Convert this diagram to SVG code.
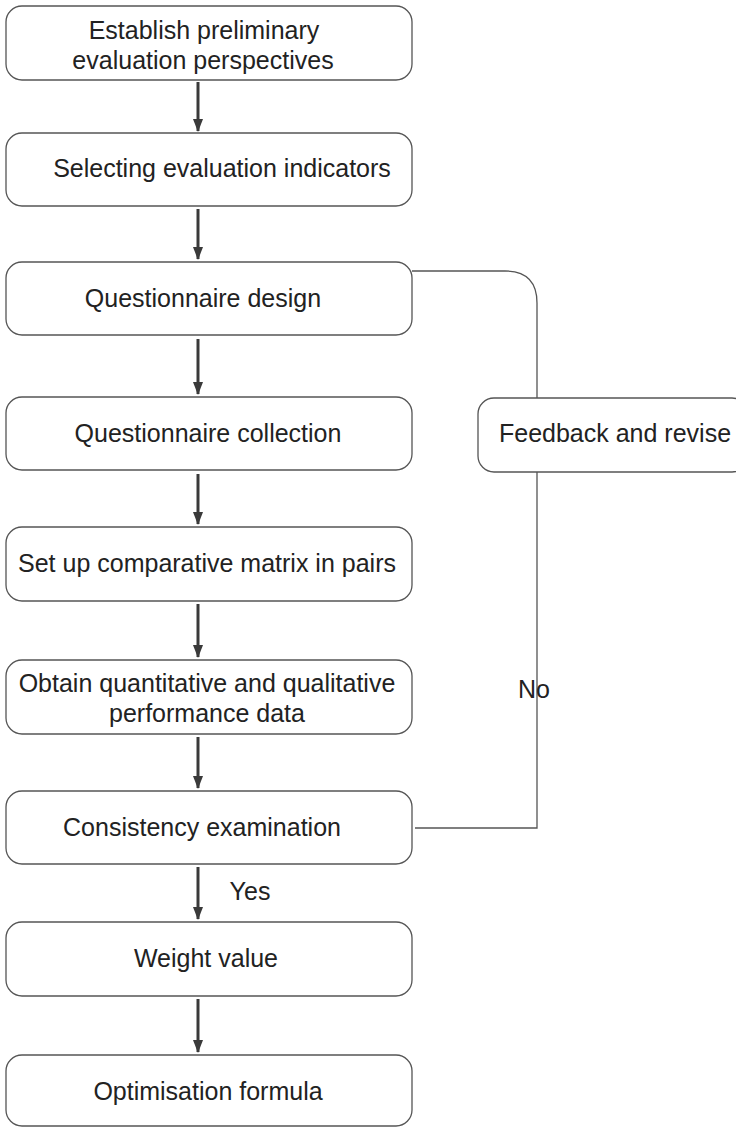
<svg xmlns="http://www.w3.org/2000/svg" width="736" height="1128" viewBox="0 0 736 1128">
<defs>
<marker id="ah" markerWidth="13" markerHeight="10" refX="12" refY="5" orient="auto" markerUnits="userSpaceOnUse" viewBox="0 0 13 10">
<path d="M0,0 L13,5 L0,10 Z" fill="#3a3a3a"/>
</marker>
<style>
.box{fill:#fff;stroke:#555;stroke-width:1.3}
.t{font-family:"Liberation Sans",Arial,sans-serif;font-size:25px;fill:#222;text-anchor:middle}
.ar{stroke:#3a3a3a;stroke-width:3;fill:none}
.ln{stroke:#555;stroke-width:1.3;fill:none}
</style>
</defs>
<rect width="736" height="1128" fill="#fff"/>
<g id="connectors">
<line class="ar" x1="198" y1="82" x2="198" y2="131" marker-end="url(#ah)"/>
<line class="ar" x1="198" y1="209" x2="198" y2="259" marker-end="url(#ah)"/>
<line class="ar" x1="198" y1="339" x2="198" y2="394" marker-end="url(#ah)"/>
<line class="ar" x1="198" y1="474" x2="198" y2="524" marker-end="url(#ah)"/>
<line class="ar" x1="198" y1="604" x2="198" y2="657" marker-end="url(#ah)"/>
<line class="ar" x1="198" y1="737" x2="198" y2="788" marker-end="url(#ah)"/>
<line class="ar" x1="198" y1="867" x2="198" y2="919" marker-end="url(#ah)"/>
<line class="ar" x1="198" y1="999" x2="198" y2="1052" marker-end="url(#ah)"/>
<path class="ln" d="M412,271 L505,271 Q537,271 537,303 L537,398"/>
<path class="ln" d="M537,472 L537,828 L415,828"/>
<text class="t" x="534" y="698">No</text>
<text class="t" x="250" y="900">Yes</text>
</g>
<g id="n1"><rect class="box" x="6" y="6" width="406" height="74" rx="16"/>
<text class="t" x="204" y="39">Establish preliminary</text>
<text class="t" x="203" y="69">evaluation perspectives</text></g>
<g id="n2"><rect class="box" x="6" y="133" width="406" height="73" rx="16"/>
<text class="t" x="222" y="177">Selecting evaluation indicators</text></g>
<g id="n3"><rect class="box" x="6" y="262" width="406" height="73" rx="16"/>
<text class="t" x="203" y="307">Questionnaire design</text></g>
<g id="n4"><rect class="box" x="6" y="397" width="406" height="73" rx="16"/>
<text class="t" x="208" y="442">Questionnaire collection</text></g>
<g id="n5"><rect class="box" x="6" y="527" width="406" height="74" rx="16"/>
<text class="t" x="207" y="572">Set up comparative matrix in pairs</text></g>
<g id="n6"><rect class="box" x="6" y="660" width="406" height="74" rx="16"/>
<text class="t" x="207" y="692">Obtain quantitative and qualitative</text>
<text class="t" x="207" y="722">performance data</text></g>
<g id="n7"><rect class="box" x="6" y="791" width="406" height="73" rx="16"/>
<text class="t" x="202" y="836">Consistency examination</text></g>
<g id="n8"><rect class="box" x="6" y="922" width="406" height="74" rx="16"/>
<text class="t" x="206" y="967">Weight value</text></g>
<g id="n9"><rect class="box" x="6" y="1055" width="406" height="71" rx="16"/>
<text class="t" x="208" y="1100">Optimisation formula</text></g>
<g id="n10"><rect class="box" x="478" y="398" width="270" height="74" rx="16"/>
<text class="t" x="615" y="442">Feedback and revise</text></g>
</svg>
